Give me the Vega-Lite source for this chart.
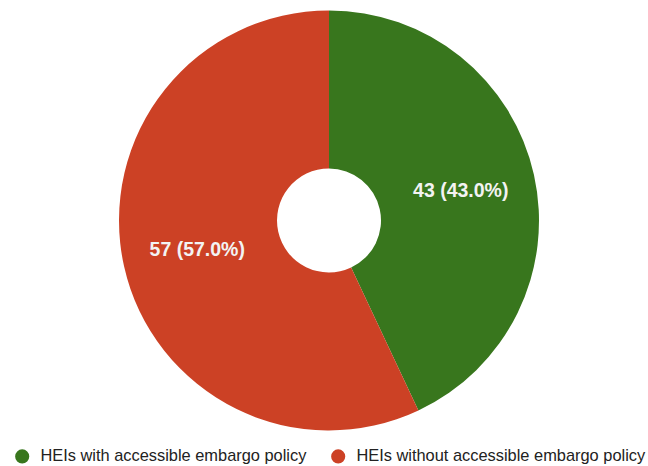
{
  "$schema": "https://vega.github.io/schema/vega-lite/v6.json",
  "width": 636,
  "height": 441,
  "autosize": {"type": "none"},
  "padding": {"left": 11, "top": 0, "right": 1, "bottom": 25},
  "background": "white",
  "config": {"view": {"stroke": null}},
  "data": {
    "values": [
      {"category": "HEIs with accessible embargo policy", "value": 43, "label": "43 (43.0%)", "order": 1},
      {"category": "HEIs without accessible embargo policy", "value": 57, "label": "57 (57.0%)", "order": 2}
    ]
  },
  "encoding": {
    "theta": {"field": "value", "type": "quantitative", "stack": true},
    "order": {"field": "order", "type": "quantitative"}
  },
  "layer": [
    {
      "mark": {"type": "arc", "outerRadius": 210, "innerRadius": 52},
      "encoding": {
        "color": {
          "field": "category",
          "type": "nominal",
          "scale": {
            "domain": ["HEIs with accessible embargo policy", "HEIs without accessible embargo policy"],
            "range": ["#38761d", "#cc4125"]
          },
          "legend": {
            "title": null,
            "orient": "none",
            "direction": "horizontal",
            "legendX": 3,
            "legendY": 448,
            "symbolType": "circle",
            "symbolSize": 200,
            "symbolStrokeWidth": 0,
            "labelFont": "Liberation Sans",
            "labelFontSize": 16.4,
            "labelColor": "#222222",
            "labelOffset": 10,
            "columnPadding": 23,
            "labelLimit": 400
          }
        }
      }
    },
    {
      "mark": {
        "type": "text",
        "radius": 135,
        "fontSize": 19.5,
        "fontWeight": "bold",
        "font": "Liberation Sans",
        "fill": "#f3f3f3"
      },
      "encoding": {
        "text": {"field": "label"}
      }
    }
  ]
}
